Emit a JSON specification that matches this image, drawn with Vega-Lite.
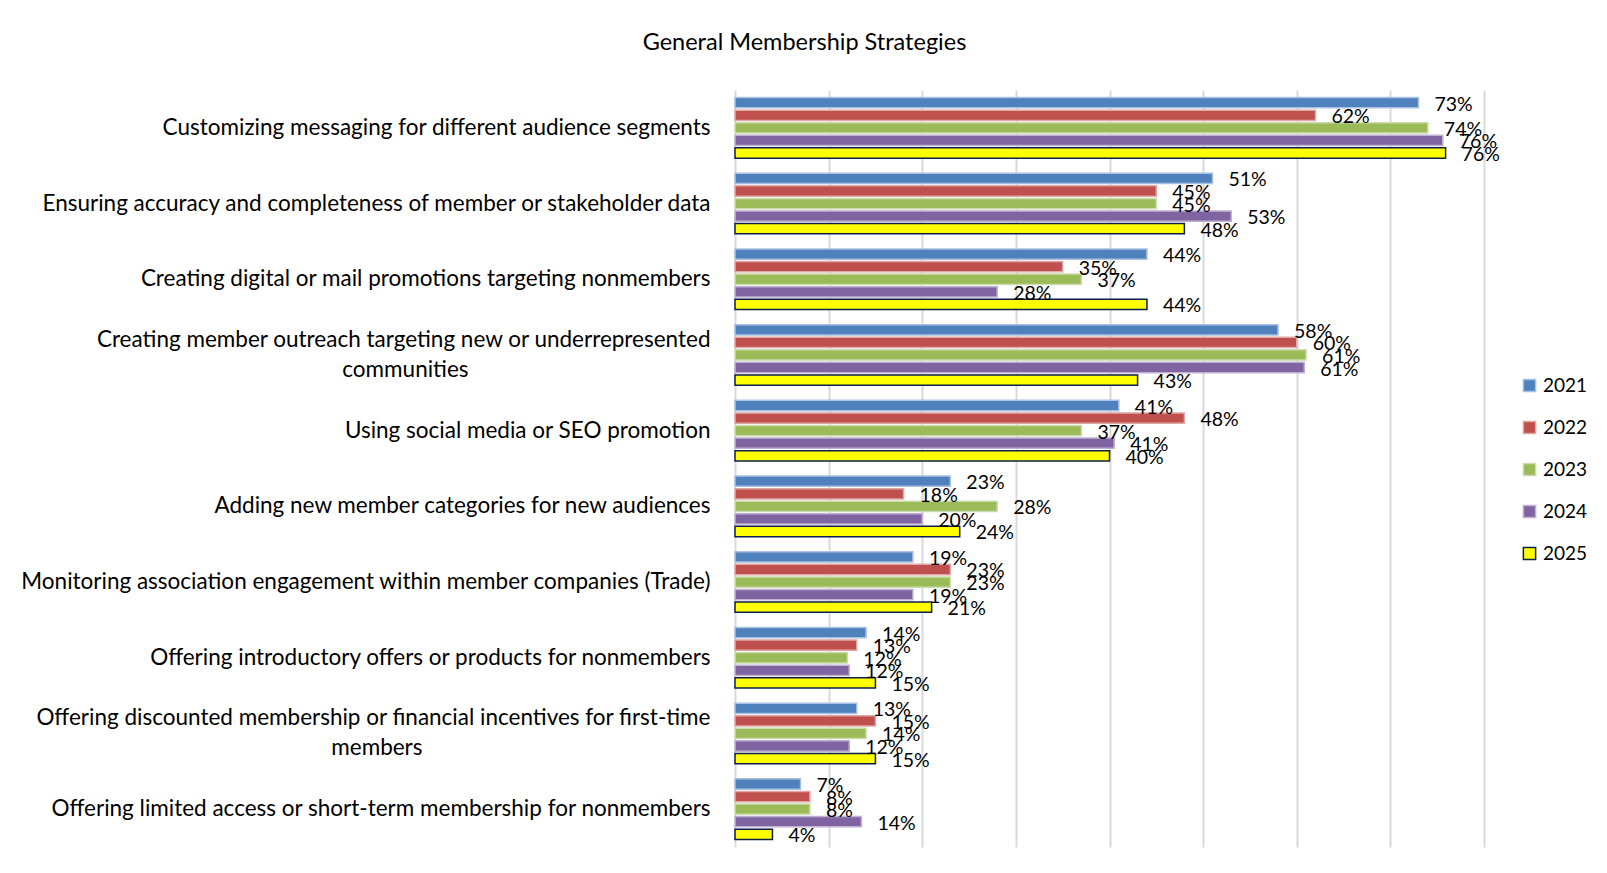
{
  "$schema": "https://vega.github.io/schema/vega-lite/v6.json",
  "autosize": {"type": "none"},
  "width": 749,
  "height": 757,
  "padding": {"left": 735, "top": 90, "right": 123, "bottom": 26},
  "background": "white",
  "title": {
    "text": "General Membership Strategies",
    "anchor": "middle",
    "frame": "group",
    "dx": -305,
    "offset": 36,
    "font": "Lato",
    "fontSize": 23.5,
    "fontWeight": "normal",
    "color": "#000000"
  },
  "data": {
    "values": [
      {"strategy": "Customizing messaging for different audience segments", "year": "2021", "value": 0.73},
      {"strategy": "Customizing messaging for different audience segments", "year": "2022", "value": 0.62},
      {"strategy": "Customizing messaging for different audience segments", "year": "2023", "value": 0.74},
      {"strategy": "Customizing messaging for different audience segments", "year": "2024", "value": 0.756},
      {"strategy": "Customizing messaging for different audience segments", "year": "2025", "value": 0.759},
      {"strategy": "Ensuring accuracy and completeness of member or stakeholder data", "year": "2021", "value": 0.51},
      {"strategy": "Ensuring accuracy and completeness of member or stakeholder data", "year": "2022", "value": 0.45},
      {"strategy": "Ensuring accuracy and completeness of member or stakeholder data", "year": "2023", "value": 0.45},
      {"strategy": "Ensuring accuracy and completeness of member or stakeholder data", "year": "2024", "value": 0.53},
      {"strategy": "Ensuring accuracy and completeness of member or stakeholder data", "year": "2025", "value": 0.48},
      {"strategy": "Creating digital or mail promotions targeting nonmembers", "year": "2021", "value": 0.44},
      {"strategy": "Creating digital or mail promotions targeting nonmembers", "year": "2022", "value": 0.35},
      {"strategy": "Creating digital or mail promotions targeting nonmembers", "year": "2023", "value": 0.37},
      {"strategy": "Creating digital or mail promotions targeting nonmembers", "year": "2024", "value": 0.28},
      {"strategy": "Creating digital or mail promotions targeting nonmembers", "year": "2025", "value": 0.44},
      {"strategy": "Creating member outreach targeting new or underrepresented communities", "year": "2021", "value": 0.58},
      {"strategy": "Creating member outreach targeting new or underrepresented communities", "year": "2022", "value": 0.60},
      {"strategy": "Creating member outreach targeting new or underrepresented communities", "year": "2023", "value": 0.61},
      {"strategy": "Creating member outreach targeting new or underrepresented communities", "year": "2024", "value": 0.608},
      {"strategy": "Creating member outreach targeting new or underrepresented communities", "year": "2025", "value": 0.43},
      {"strategy": "Using social media or SEO promotion", "year": "2021", "value": 0.41},
      {"strategy": "Using social media or SEO promotion", "year": "2022", "value": 0.48},
      {"strategy": "Using social media or SEO promotion", "year": "2023", "value": 0.37},
      {"strategy": "Using social media or SEO promotion", "year": "2024", "value": 0.405},
      {"strategy": "Using social media or SEO promotion", "year": "2025", "value": 0.40},
      {"strategy": "Adding new member categories for new audiences", "year": "2021", "value": 0.23},
      {"strategy": "Adding new member categories for new audiences", "year": "2022", "value": 0.18},
      {"strategy": "Adding new member categories for new audiences", "year": "2023", "value": 0.28},
      {"strategy": "Adding new member categories for new audiences", "year": "2024", "value": 0.20},
      {"strategy": "Adding new member categories for new audiences", "year": "2025", "value": 0.24},
      {"strategy": "Monitoring association engagement within member companies (Trade)", "year": "2021", "value": 0.19},
      {"strategy": "Monitoring association engagement within member companies (Trade)", "year": "2022", "value": 0.23},
      {"strategy": "Monitoring association engagement within member companies (Trade)", "year": "2023", "value": 0.23},
      {"strategy": "Monitoring association engagement within member companies (Trade)", "year": "2024", "value": 0.19},
      {"strategy": "Monitoring association engagement within member companies (Trade)", "year": "2025", "value": 0.21},
      {"strategy": "Offering introductory offers or products for nonmembers", "year": "2021", "value": 0.14},
      {"strategy": "Offering introductory offers or products for nonmembers", "year": "2022", "value": 0.13},
      {"strategy": "Offering introductory offers or products for nonmembers", "year": "2023", "value": 0.12},
      {"strategy": "Offering introductory offers or products for nonmembers", "year": "2024", "value": 0.122},
      {"strategy": "Offering introductory offers or products for nonmembers", "year": "2025", "value": 0.15},
      {"strategy": "Offering discounted membership or financial incentives for first-time members", "year": "2021", "value": 0.13},
      {"strategy": "Offering discounted membership or financial incentives for first-time members", "year": "2022", "value": 0.15},
      {"strategy": "Offering discounted membership or financial incentives for first-time members", "year": "2023", "value": 0.14},
      {"strategy": "Offering discounted membership or financial incentives for first-time members", "year": "2024", "value": 0.122},
      {"strategy": "Offering discounted membership or financial incentives for first-time members", "year": "2025", "value": 0.15},
      {"strategy": "Offering limited access or short-term membership for nonmembers", "year": "2021", "value": 0.07},
      {"strategy": "Offering limited access or short-term membership for nonmembers", "year": "2022", "value": 0.08},
      {"strategy": "Offering limited access or short-term membership for nonmembers", "year": "2023", "value": 0.08},
      {"strategy": "Offering limited access or short-term membership for nonmembers", "year": "2024", "value": 0.135},
      {"strategy": "Offering limited access or short-term membership for nonmembers", "year": "2025", "value": 0.04}
    ]
  },
  "encoding": {
    "y": {
      "field": "strategy",
      "type": "nominal",
      "sort": null,
      "title": null,
      "scale": {"paddingInner": 0.2, "paddingOuter": 0.1},
      "axis": {
        "domain": false,
        "ticks": false,
        "labelPadding": 25,
        "labelFont": "Lato",
        "labelFontSize": 22.5,
        "labelColor": "#000000",
        "labelLimit": 900,
        "labelLineHeight": 30,
        "labelOffset": {"condition": {"test": "indexof(datum.value, 'communities') >= 0 || indexof(datum.value, 'first-time') >= 0", "value": -15}, "value": 0},
        "labelExpr": "datum.value == 'Creating member outreach targeting new or underrepresented communities' ? ['Creating member outreach targeting new or underrepresented', pad('communities', 53, '\u00a0', 'right') + '\u200d'] : datum.value == 'Offering discounted membership or financial incentives for first-time members' ? ['Offering discounted membership or financial incentives for first-time', pad('members', 57, '\u00a0', 'right') + '\u200d'] : datum.value"
      }
    },
    "yOffset": {
      "field": "year",
      "type": "nominal",
      "sort": ["2021", "2022", "2023", "2024", "2025"],
      "scale": {"paddingInner": 0.18, "paddingOuter": 0}
    },
    "x": {
      "field": "value",
      "type": "quantitative",
      "title": null,
      "scale": {"domain": [0, 0.8], "nice": false},
      "axis": {
        "values": [0, 0.1, 0.2, 0.3, 0.4, 0.5, 0.6, 0.7, 0.8],
        "labels": false,
        "ticks": false,
        "domain": false,
        "grid": true,
        "gridColor": "#d9d9d9",
        "gridWidth": 2
      }
    }
  },
  "layer": [
    {
      "mark": {"type": "bar", "strokeWidth": 1.5},
      "encoding": {
        "fill": {
          "field": "year",
          "type": "nominal",
          "title": null,
          "scale": {
            "domain": ["2021", "2022", "2023", "2024", "2025"],
            "range": ["#4F81BD", "#C0504D", "#9BBB59", "#8064A2", "#FFFF00"]
          },
          "legend": {
            "orient": "none",
            "legendX": 785,
            "legendY": 286,
            "symbolType": "square",
            "symbolSize": 150,
            "labelFont": "Lato",
            "labelFontSize": 19,
            "labelColor": "#000000",
            "rowPadding": 22,
            "labelOffset": 4
          }
        },
        "stroke": {
          "field": "year",
          "type": "nominal",
          "title": null,
          "scale": {
            "domain": ["2021", "2022", "2023", "2024", "2025"],
            "range": ["#a9c1e2", "#e0a8a6", "#cddcae", "#bfb1d1", "#0D1F4F"]
          }
        }
      }
    },
    {
      "mark": {
        "type": "text",
        "align": "left",
        "baseline": "middle",
        "dx": 16,
        "dy": 2,
        "font": "Lato",
        "fontSize": 19.5,
        "color": "#000000"
      },
      "encoding": {
        "text": {"field": "value", "type": "quantitative", "format": ".0%"}
      }
    }
  ],
  "config": {
    "view": {"stroke": null}
  }
}
